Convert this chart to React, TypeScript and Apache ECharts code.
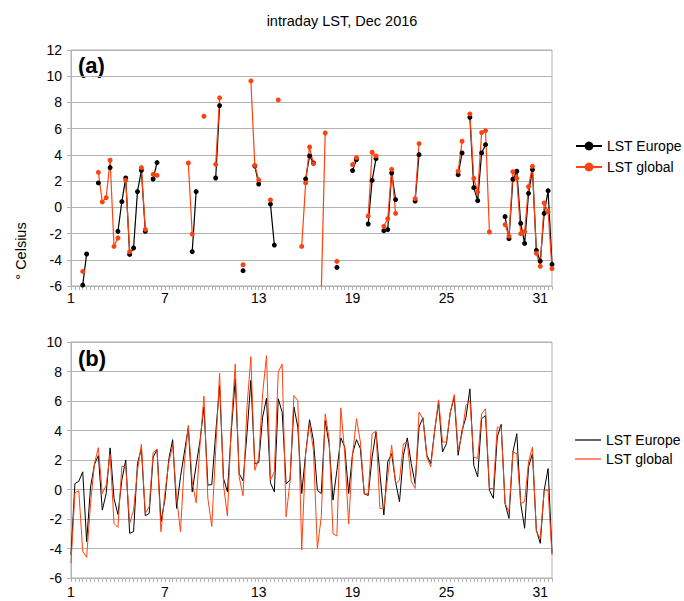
import React, { useEffect, useRef } from "react";
import * as echarts from "echarts";

const N = 124;
const dayLabels: string[] = Array.from({ length: N }, (_, i) => String(1 + i / 4));

// Panel (a): sparse points (index -> value)
const topEuropePts: [number, number][] = [
  [3, -5.93], [4, -3.56], [7, 1.86], [10, 3.03], [12, -1.83], [13, 0.43], [14, 2.24], [15, -3.59],
  [16, -3.1], [17, 1.2], [18, 2.82], [19, -1.83], [21, 2.16], [22, 3.41], [31, -3.38], [32, 1.2],
  [37, 2.24], [38, 7.76], [44, -4.83], [47, 3.15], [48, 1.78], [51, 0.25], [52, -2.88], [60, 2.16],
  [61, 3.92], [62, 3.38], [68, -4.58], [72, 2.8], [73, 3.64], [76, -1.27], [77, 2.06], [78, 3.72],
  [80, -1.78], [81, -1.7], [82, 2.62], [83, 0.59], [88, 0.48], [89, 4.02], [99, 2.49], [100, 4.15],
  [102, 6.87], [103, 1.5], [104, 0.51], [105, 4.15], [106, 4.78], [111, -0.71], [112, -2.39],
  [113, 2.14], [114, 2.75], [115, -1.22], [116, -2.75], [117, 1.07], [118, 2.88], [119, -3.28],
  [120, -4.1], [121, -0.46], [122, 1.27], [123, -4.35],
];
const topGlobalPts: [number, number][] = [
  [3, -4.89], [7, 2.67], [8, 0.41], [9, 0.74], [10, 3.59], [11, -2.98], [12, -2.34], [14, 2.06],
  [15, -3.38], [18, 3.03], [19, -1.68], [21, 2.52], [22, 2.44], [30, 3.38], [31, -2.04], [34, 6.95],
  [37, 3.28], [38, 8.35], [44, -4.38], [46, 9.64], [47, 3.2], [48, 2.09], [51, 0.56], [53, 8.19],
  [59, -2.98], [60, 1.86], [61, 4.6], [62, 3.33], [64, -6.5], [65, 5.67], [68, -4.12], [72, 3.26],
  [73, 3.79], [76, -0.66], [77, 4.2], [78, 3.92], [80, -1.45], [81, -0.87], [82, 2.9], [83, -0.46],
  [88, 0.66], [89, 4.86], [99, 2.75], [100, 5.04], [102, 7.12], [103, 2.21], [104, 1.17], [105, 5.7],
  [106, 5.85], [107, -1.88], [111, -1.32], [112, -2.19], [113, 2.72], [114, 2.21], [115, -2.01],
  [116, -1.86], [117, 1.58], [118, 3.13], [119, -3.51], [120, -4.5], [121, 0.33], [122, -0.33],
  [123, -4.68],
];

// Panel (b): full series
const botEurope: number[] = [
  -4.44, 0.4, 0.56, 1.2, -3.54, 0.18, 1.7, 2.3, -1.4, -0.27, 2.82, -0.6, -1.69, 0.63, 2.0, -2.97,
  -2.86, 1.76, 2.77, -1.78, -1.62, 2.2, 2.7, -2.18, -0.72, 2.03, 3.38, -1.28, 0.86, 2.54, 4.2, -0.16,
  1.64, 3.33, 5.6, 0.3, 0.33, 3.8, 7.05, 0.75, -0.16, 4.0, 7.5, 1.08, 0.58, 3.78, 7.4, 1.76,
  1.82, 4.9, 6.2, 0.45, -0.16, 6.15, 5.25, 0.4, 0.63, 5.6, 4.23, -0.27, 2.43, 4.73, 3.33, -0.05,
  -0.27, 4.68, 3.1, -0.72, 1.3, 3.5, 2.88, -0.27, 2.43, 3.38, 2.77, -0.3, -0.4, 2.2, 3.9, 1.08,
  -1.73, 1.87, 2.43, 0.52, -0.83, 2.32, 3.5, 1.76, 0.4, 4.23, 4.86, 2.32, 1.76, 4.0, 5.92, 2.54,
  3.1, 5.25, 6.26, 2.32, 4.0, 4.9, 6.82, 1.64, 0.86, 4.8, 5.02, -0.05, -0.6, 3.56, 4.41, -0.95,
  -1.96, 2.54, 3.78, -0.95, -2.63, 1.53, 2.43, -2.75, -3.65, -0.05, 1.42, -4.3,
];
const botGlobal: number[] = [
  -5.0, -0.22, -0.09, -4.2, -4.6, -0.95, 1.76, 2.84, -0.27, 0.29, 2.4, -2.3, -2.57, 1.58, 1.53, -2.3,
  -1.4, 1.3, 3.06, -1.62, -1.17, 2.5, 2.72, -2.86, -0.27, 1.82, 3.0, -0.5, -2.86, 1.87, 4.35, 0.52,
  -0.9, 3.06, 6.33, -0.6, -2.5, 2.66, 7.9, 0.3, -1.8, 4.45, 8.5, 0.86, -0.43, 5.6, 9.0, 1.3,
  2.1, 6.5, 9.08, 0.63, 1.2, 7.95, 8.5, -1.85, 0.52, 6.37, 6.03, -4.1, 2.43, 4.46, 2.66, -4.0,
  -1.85, 5.13, 3.45, -3.0, -3.15, 5.54, 2.43, -2.34, 2.32, 4.8, 3.22, -0.32, -0.27, 3.78, 3.96, -1.28,
  -1.28, 0.86, 3.0, 0.4, 0.63, 3.1, 3.22, 0.58, 0.07, 5.25, 4.8, 2.2, 1.53, 4.0, 6.08, 3.22,
  3.22, 5.25, 6.44, 2.66, 3.78, 5.7, 6.03, 2.2, 2.1, 5.13, 5.47, 0.07, 0.07, 4.23, 4.23, -0.95,
  -1.5, 2.54, 2.43, -0.95, -0.83, 1.87, 2.88, -2.86, -3.3, -0.05, -0.05, -4.44,
];

const seriesNames = ["LST Europe", "LST global"];
const colors = ["#000000", "#ff420e"];

function toSparse(pts: [number, number][]): (number | null)[] {
  const arr: (number | null)[] = new Array(N).fill(null);
  pts.forEach(([i, v]) => (arr[i] = v));
  return arr;
}

const FONT = "Liberation Sans, Arial, sans-serif";
const GRID_COLOR = "#b3b3b3";

function xAxis(gridIndex: number, margin: number) {
  return {
    type: "category",
    gridIndex,
    data: dayLabels,
    boundaryGap: false,
    axisLine: { onZero: false, lineStyle: { color: GRID_COLOR, width: 1 } },
    axisTick: { show: true, interval: 0, length: 4, lineStyle: { color: GRID_COLOR } },
    axisLabel: { interval: 23, margin, color: "#000", fontSize: 14, fontFamily: FONT },
    splitLine: { show: false },
  };
}

function yAxis(gridIndex: number, max: number) {
  return {
    type: "value",
    gridIndex,
    min: -6,
    max,
    interval: 2,
    axisLine: { show: true, onZero: false, lineStyle: { color: GRID_COLOR, width: 1 } },
    axisTick: { show: true, length: 4, lineStyle: { color: GRID_COLOR } },
    axisLabel: { margin: 9, color: "#000", fontSize: 14, fontFamily: FONT },
    splitLine: { show: true, lineStyle: { color: GRID_COLOR, width: 1 } },
  };
}

export default function App() {
  const ref = useRef<HTMLDivElement>(null);
  useEffect(() => {
    if (!ref.current) return;
    const chart = echarts.init(ref.current, undefined, { renderer: "svg" });
    const option = {
      animation: false,
      backgroundColor: "#ffffff",
      grid: [
        { left: 71, width: 481, top: 50, height: 236, show: true, borderColor: GRID_COLOR, borderWidth: 1 },
        { left: 71, width: 481, top: 342, height: 236, show: true, borderColor: GRID_COLOR, borderWidth: 1 },
      ],
      xAxis: [xAxis(0, 5), xAxis(1, 7)],
      yAxis: [yAxis(0, 12), yAxis(1, 10)],
      legend: [
        {
          orient: "vertical",
          left: 570,
          top: 134,
          itemWidth: 26,
          itemHeight: 11,
          itemGap: 7,
          data: seriesNames,
          textStyle: { fontSize: 14, color: "#000", fontFamily: FONT },
          selectedMode: false,
        },
        {
          orient: "vertical",
          left: 570,
          top: 428,
          itemWidth: 26,
          itemHeight: 1.2,
          itemGap: 5,
          icon: "rect",
          data: seriesNames,
          textStyle: { fontSize: 14, color: "#000", fontFamily: FONT },
          selectedMode: false,
        },
      ],
      graphic: [
        {
          type: "text",
          x: 342,
          y: 21,
          style: { text: "intraday LST, Dec 2016", font: `14.5px ${FONT}`, fill: "#000", textAlign: "center", textVerticalAlign: "middle" },
        },
        {
          type: "text",
          x: 21,
          y: 251,
          rotation: Math.PI / 2,
          style: { text: "° Celsius", font: `14.5px ${FONT}`, fill: "#000", textAlign: "center", textVerticalAlign: "middle" },
        },
        {
          type: "text",
          x: 78,
          y: 65,
          style: { text: "(a)", font: `bold 22px ${FONT}`, fill: "#000", textAlign: "left", textVerticalAlign: "middle" },
        },
        {
          type: "text",
          x: 78,
          y: 358,
          style: { text: "(b)", font: `bold 22px ${FONT}`, fill: "#000", textAlign: "left", textVerticalAlign: "middle" },
        },
      ],
      series: [
        {
          name: seriesNames[0],
          type: "line",
          xAxisIndex: 0,
          yAxisIndex: 0,
          data: toSparse(topEuropePts),
          connectNulls: false,
          symbol: "circle",
          symbolSize: 5,
          showSymbol: true,
          showAllSymbol: true,
          color: colors[0],
          lineStyle: { color: colors[0], width: 1.2 },
          itemStyle: { color: colors[0] },
          clip: true,
        },
        {
          name: seriesNames[1],
          type: "line",
          xAxisIndex: 0,
          yAxisIndex: 0,
          data: toSparse(topGlobalPts),
          connectNulls: false,
          symbol: "circle",
          symbolSize: 5,
          showSymbol: true,
          showAllSymbol: true,
          color: colors[1],
          lineStyle: { color: colors[1], width: 1.2 },
          itemStyle: { color: colors[1] },
          clip: true,
        },
        {
          name: seriesNames[0],
          type: "line",
          xAxisIndex: 1,
          yAxisIndex: 1,
          data: botEurope,
          symbol: "none",
          color: colors[0],
          lineStyle: { color: colors[0], width: 1 },
        },
        {
          name: seriesNames[1],
          type: "line",
          xAxisIndex: 1,
          yAxisIndex: 1,
          data: botGlobal,
          symbol: "none",
          color: colors[1],
          lineStyle: { color: colors[1], width: 1 },
        },
      ],
    };
    chart.setOption(option as any);
    return () => chart.dispose();
  }, []);
  return <div ref={ref} style={{ position: "absolute", left: 0, top: 0, width: 684, height: 601 }} />;
}
